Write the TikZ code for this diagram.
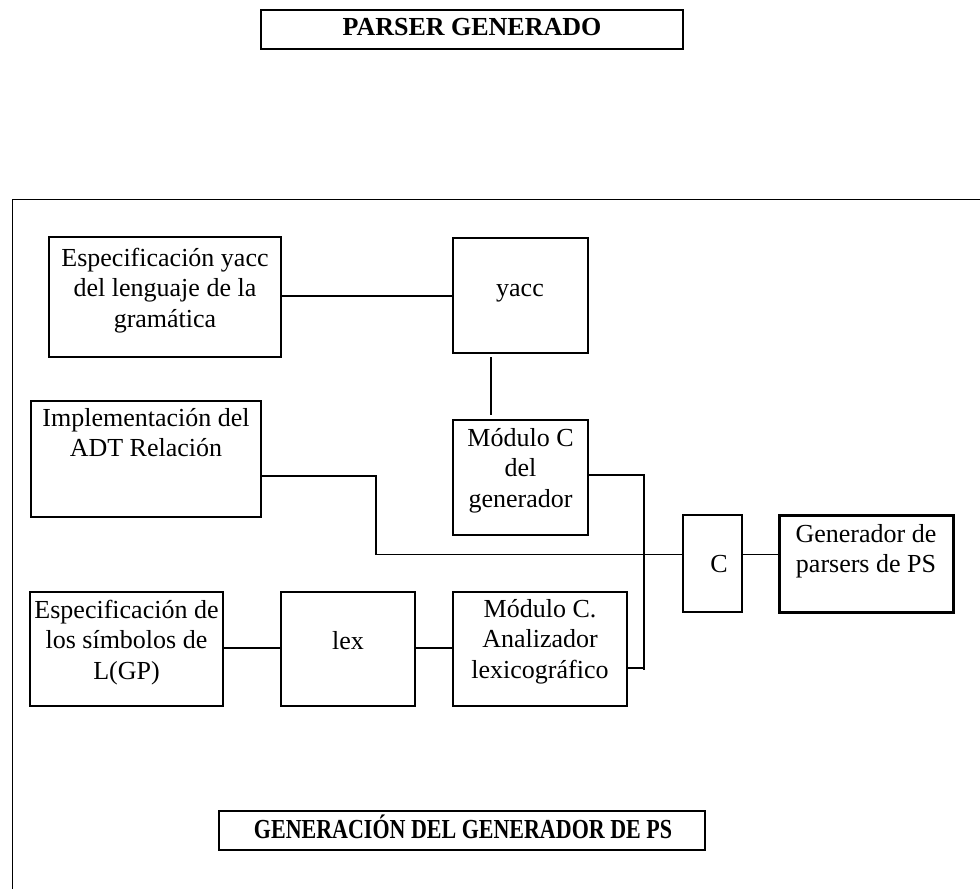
\documentclass[tikz,border=0pt]{standalone}
\usepackage{fontspec}
\setmainfont{Liberation Serif}
\usepackage{graphicx}
\newcommand{\mlines}[1]{\begin{tabular}[t]{@{}c@{}}#1\end{tabular}}
\begin{document}
\begin{tikzpicture}[x=1pt,y=-1pt,
  box/.style={draw,line width=1.7pt,rectangle,inner sep=0pt},
  thickbox/.style={draw,line width=3pt,rectangle,inner sep=0pt},
  titlebox/.style={draw,line width=1.8pt,rectangle,inner sep=0pt},
  txt/.style={anchor=base,inner sep=0pt,font=\fontsize{26}{30.5}\selectfont},
  conn/.style={line width=1.6pt}]
\useasboundingbox (0,0) rectangle (980,889);
% frame
\coordinate (fa) at (12,889);
\coordinate (fb) at (12,199);
\coordinate (fc) at (980,199);
\draw[line width=1pt] (fa) -- (fb) -- (fc);
% titles
\node[titlebox,minimum width=422pt,minimum height=39pt] (t1) at (472,29.5) {};
\node[anchor=base,inner sep=0pt] (t1t) at (472,35) {\fontsize{26}{30}\selectfont\bfseries PARSER GENERADO};
\node[titlebox,minimum width=486pt,minimum height=39pt] (t2) at (462,830.5) {};
\node[anchor=base,inner sep=0pt] (t2t) at (463,838) {\scalebox{0.8}[1]{\fontsize{27.5}{30}\selectfont\bfseries GENERACIÓN DEL GENERADOR DE PS}};
% boxes
\node[box,minimum width=232pt,minimum height=120pt] (espyacc) at (165,297) {};
\node[txt] (espyacct) at (165,266) {\mlines{Especificación yacc\\del lenguaje de la\\gramática}};
\node[box,minimum width=135pt,minimum height=115pt] (yacc) at (520.5,295.5) {};
\node[txt] (yacct) at (520,296) {yacc};
\node[box,minimum width=230pt,minimum height=116pt] (impl) at (146,459) {};
\node[txt] (implt) at (146,426) {\mlines{Implementación del\\ADT Relación}};
\node[box,minimum width=135pt,minimum height=115pt] (modc) at (520.5,477.5) {};
\node[txt] (modct) at (520.5,446) {\mlines{Módulo C\\del\\generador}};
\node[box,minimum width=59pt,minimum height=97pt] (cbox) at (712.5,563.5) {};
\node[txt] (cboxt) at (719,572.5) {C};
\node[thickbox,minimum width=174pt,minimum height=97pt] (gen) at (866,563.5) {};
\node[txt] (gent) at (866,542) {\mlines{Generador de\\parsers de PS}};
\node[box,minimum width=193pt,minimum height=114pt] (espsym) at (126.5,649) {};
\node[txt] (espsymt) at (126.5,618) {\mlines{Especificación de\\los símbolos de\\L(GP)}};
\node[box,minimum width=134pt,minimum height=114pt] (lex) at (348,649) {};
\node[txt] (lext) at (348,649) {lex};
\node[box,minimum width=174pt,minimum height=114pt] (anal) at (540,649) {};
\node[txt] (analt) at (540,617) {\mlines{Módulo C.\\Analizador\\lexicográfico}};
% connector points
\coordinate (ya) at (491,296);
\coordinate (yb) at (491,357);
\coordinate (yc) at (491,415);
\coordinate (j1) at (644,475);
\coordinate (j2) at (644,670);
\coordinate (j3) at (644,668);
\coordinate (k1) at (376,476);
\coordinate (k2) at (376,554.5);
\coordinate (lx) at (0,648);
% connectors
\draw[conn] (espyacc.east |- ya) -- (yacc.west |- ya);
\draw[conn] (yb) -- (yc);
\draw[conn] (modc.east |- j1) -- (j1) -- (j2);
\draw[conn] (anal.east |- j3) -- (j3);
\draw[conn] (impl.east |- k1) -- (k1) -- (k2) -- (k2 -| cbox.west);
\draw[conn] (cbox.east |- k2) -- (k2 -| gen.west);
\draw[conn] (espsym.east |- lx) -- (lex.west |- lx);
\draw[conn] (lex.east |- lx) -- (anal.west |- lx);
\end{tikzpicture}
\end{document}
